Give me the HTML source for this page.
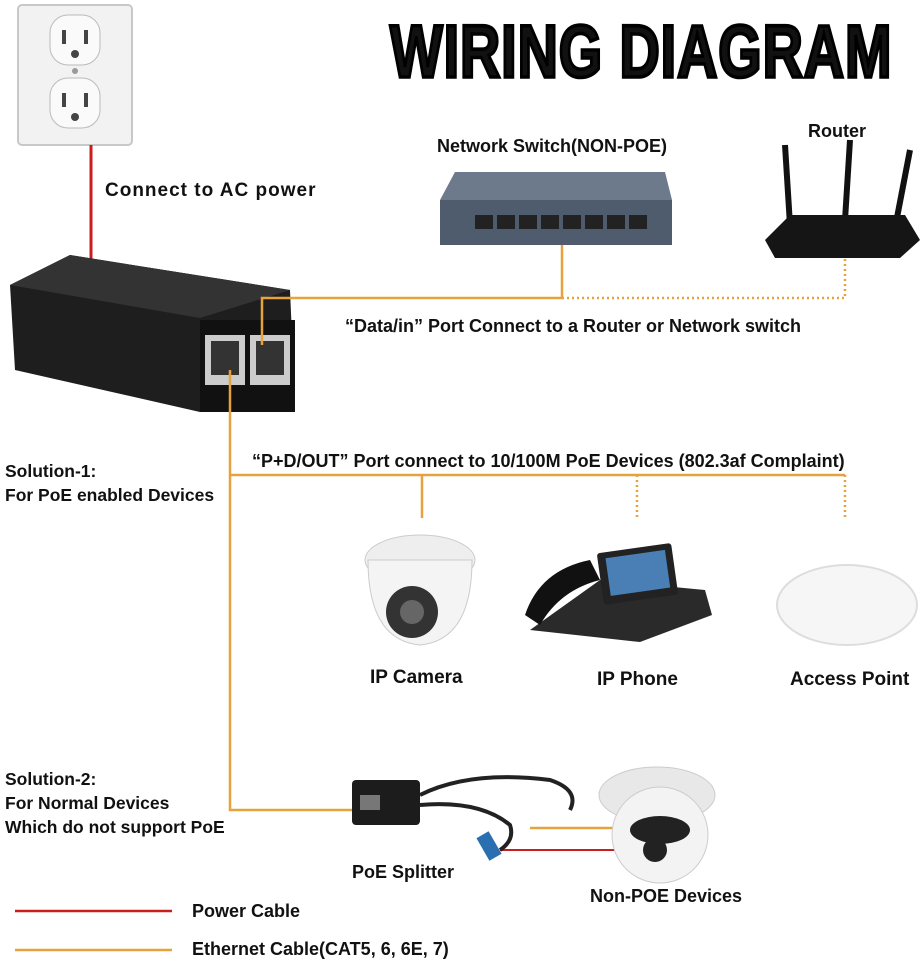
<!DOCTYPE html>
<html><head><meta charset="utf-8"><style>
*{margin:0;padding:0;box-sizing:border-box}
body{width:924px;height:968px;background:#fff;position:relative;overflow:hidden;font-family:"Liberation Sans",Arial,sans-serif;color:#111}
.t{position:absolute;font-weight:bold;font-size:18px;white-space:nowrap}
.s{position:absolute;font-weight:bold;font-size:17.5px;line-height:24px;white-space:nowrap}
.a{position:absolute}
#title{position:absolute;left:390px;top:10px;font-size:62px;font-weight:900;letter-spacing:1px;transform:scale(0.9,1.2);transform-origin:top left;font-family:"Liberation Sans",sans-serif;-webkit-text-stroke:3px #000;white-space:nowrap}
</style></head><body>
<svg class="a" style="left:0;top:0" width="924" height="968">
<rect x="18" y="5" width="114" height="140" rx="4" fill="#f2f2f2" stroke="#c8c8c8" stroke-width="2"/>
<rect x="50" y="15" width="50" height="50" rx="18" fill="#fafafa" stroke="#bbb"/>
<rect x="50" y="78" width="50" height="50" rx="18" fill="#fafafa" stroke="#bbb"/>
<rect x="62" y="30" width="4" height="14" fill="#444"/><rect x="84" y="30" width="4" height="14" fill="#444"/><circle cx="75" cy="54" r="4" fill="#444"/>
<rect x="62" y="93" width="4" height="14" fill="#444"/><rect x="84" y="93" width="4" height="14" fill="#444"/><circle cx="75" cy="117" r="4" fill="#444"/>
<circle cx="75" cy="71" r="3" fill="#999"/>
<line x1="91" y1="145" x2="91" y2="268" stroke="#c81e1e" stroke-width="3"/>
<path d="M10 285 L70 255 L290 290 L295 405 L200 412 L15 370 Z" fill="#1e1e1e"/>
<path d="M10 285 L70 255 L290 290 L200 318 Z" fill="#333"/>
<rect x="200" y="320" width="95" height="92" fill="#111"/>
<rect x="205" y="335" width="40" height="50" fill="#ccc"/><rect x="211" y="341" width="28" height="34" fill="#333"/>
<rect x="250" y="335" width="40" height="50" fill="#ccc"/><rect x="256" y="341" width="28" height="34" fill="#333"/>
<g stroke="#e6a23c" stroke-width="2.5" fill="none">
<polyline points="262,345 262,298 562,298 562,245"/>
<polyline points="230,370 230,810 352,810"/>
<polyline points="230,475 845,475"/>
<line x1="422" y1="475" x2="422" y2="518"/>
<line x1="530" y1="828" x2="630" y2="828"/>
<line x1="15" y1="950" x2="172" y2="950"/>
</g>
<g stroke="#e6a23c" stroke-width="2.5" fill="none" stroke-dasharray="2,3">
<polyline points="562,298 845,298 845,258"/>
<line x1="637" y1="475" x2="637" y2="518"/>
<line x1="845" y1="475" x2="845" y2="518"/>
</g>
<line x1="500" y1="850" x2="630" y2="850" stroke="#c81e1e" stroke-width="2"/>
<line x1="15" y1="911" x2="172" y2="911" stroke="#c81e1e" stroke-width="2.5"/>
<path d="M440 200 L455 172 L665 172 L672 200 Z" fill="#6c7a8c"/>
<rect x="440" y="200" width="232" height="45" fill="#4f5c6e"/>
<g fill="#222"><rect x="475" y="215" width="18" height="14"/><rect x="497" y="215" width="18" height="14"/><rect x="519" y="215" width="18" height="14"/><rect x="541" y="215" width="18" height="14"/><rect x="563" y="215" width="18" height="14"/><rect x="585" y="215" width="18" height="14"/><rect x="607" y="215" width="18" height="14"/><rect x="629" y="215" width="18" height="14"/></g>
<line x1="790" y1="225" x2="785" y2="145" stroke="#111" stroke-width="6"/>
<line x1="845" y1="220" x2="850" y2="140" stroke="#111" stroke-width="6"/>
<line x1="895" y1="228" x2="910" y2="150" stroke="#111" stroke-width="6"/>
<path d="M765 240 L790 215 L905 215 L920 240 L900 258 L775 258 Z" fill="#151515"/>
<ellipse cx="420" cy="560" rx="55" ry="25" fill="#eee" stroke="#ccc"/>
<path d="M368 560 Q368 640 420 645 Q472 640 472 560 Z" fill="#f4f4f4" stroke="#ccc"/>
<circle cx="412" cy="612" r="26" fill="#333"/><circle cx="412" cy="612" r="12" fill="#666"/>
<path d="M530 630 L600 580 L705 590 L712 615 L640 642 Z" fill="#2a2a2a"/>
<rect x="600" y="548" width="75" height="52" rx="3" fill="#222" transform="rotate(-8 637 574)"/>
<rect x="608" y="554" width="60" height="38" fill="#4a7fb5" transform="rotate(-8 637 574)"/>
<path d="M525 615 Q540 570 590 560 L600 580 Q560 590 540 625 Z" fill="#111"/>
<ellipse cx="847" cy="605" rx="70" ry="40" fill="#f6f6f6" stroke="#ddd" stroke-width="2"/>
<rect x="352" y="780" width="68" height="45" rx="4" fill="#1c1c1c"/>
<rect x="360" y="795" width="20" height="15" fill="#777"/>
<path d="M420 795 Q470 770 550 780 Q580 790 570 810" stroke="#222" stroke-width="4" fill="none"/>
<path d="M420 805 Q480 800 510 825 Q515 840 500 850" stroke="#222" stroke-width="4" fill="none"/>
<rect x="482" y="833" width="14" height="26" fill="#2a6fb0" transform="rotate(-30 489 846)"/>
<ellipse cx="657" cy="795" rx="58" ry="28" fill="#e8e8e8" stroke="#ccc"/>
<circle cx="660" cy="835" r="48" fill="#f3f3f3" stroke="#ccc"/>
<ellipse cx="660" cy="830" rx="30" ry="14" fill="#222"/>
<circle cx="655" cy="850" r="12" fill="#222"/>
</svg>
<div id="title">WIRING DIAGRAM</div>
<div class="t" style="left:105px;top:180px;font-size:19px;letter-spacing:1px">Connect to AC power</div>
<div class="t" style="left:437px;top:136px">Network Switch(NON-POE)</div>
<div class="t" style="left:808px;top:121px">Router</div>
<div class="t" style="left:345px;top:316px">“Data/in” Port Connect to a Router or Network switch</div>
<div class="t" style="left:252px;top:451px">“P+D/OUT” Port connect to 10/100M PoE Devices (802.3af Complaint)</div>
<div class="s" style="left:5px;top:459px">Solution-1:<br>For PoE enabled Devices</div>
<div class="t" style="left:370px;top:667px;font-size:19px">IP Camera</div>
<div class="t" style="left:597px;top:669px;font-size:19px">IP Phone</div>
<div class="t" style="left:790px;top:669px;font-size:19px">Access Point</div>
<div class="s" style="left:5px;top:767px">Solution-2:<br>For Normal Devices<br>Which do not support PoE</div>
<div class="t" style="left:352px;top:862px">PoE Splitter</div>
<div class="t" style="left:590px;top:886px">Non-POE Devices</div>
<div class="t" style="left:192px;top:901px">Power Cable</div>
<div class="t" style="left:192px;top:939px">Ethernet Cable(CAT5, 6, 6E, 7)</div>
</body></html>
